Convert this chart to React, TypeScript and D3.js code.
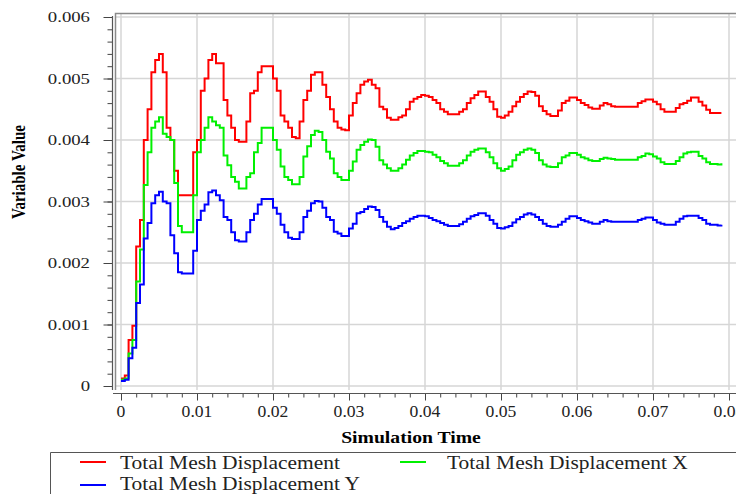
import React, { useEffect, useRef } from 'react'
import * as d3 from 'd3'

// simulation time samples
const simTime = [
  0, 0.0005, 0.001, 0.0015, 0.002, 0.0025, 0.003, 0.0035, 0.004, 0.0045,
  0.005, 0.0055, 0.006, 0.0065, 0.007, 0.0075, 0.008, 0.0085, 0.009, 0.0095,
  0.01, 0.0105, 0.011, 0.0115, 0.012, 0.0125, 0.013, 0.0135, 0.014, 0.0145,
  0.015, 0.0155, 0.016, 0.0165, 0.017, 0.0175, 0.018, 0.0185, 0.019, 0.0195,
  0.02, 0.0205, 0.021, 0.0215, 0.022, 0.0225, 0.023, 0.0235, 0.024, 0.0245,
  0.025, 0.0255, 0.026, 0.0265, 0.027, 0.0275, 0.028, 0.0285, 0.029, 0.0295,
  0.03, 0.0305, 0.031, 0.0315, 0.032, 0.0325, 0.033, 0.0335, 0.034, 0.0345,
  0.035, 0.0355, 0.036, 0.0365, 0.037, 0.0375, 0.038, 0.0385, 0.039, 0.0395,
  0.04, 0.0405, 0.041, 0.0415, 0.042, 0.0425, 0.043, 0.0435, 0.044, 0.0445,
  0.045, 0.0455, 0.046, 0.0465, 0.047, 0.0475, 0.048, 0.0485, 0.049, 0.0495,
  0.05, 0.0505, 0.051, 0.0515, 0.052, 0.0525, 0.053, 0.0535, 0.054, 0.0545,
  0.055, 0.0555, 0.056, 0.0565, 0.057, 0.0575, 0.058, 0.0585, 0.059, 0.0595,
  0.06, 0.0605, 0.061, 0.0615, 0.062, 0.0625, 0.063, 0.0635, 0.064, 0.0645,
  0.065, 0.0655, 0.066, 0.0665, 0.067, 0.0675, 0.068, 0.0685, 0.069, 0.0695,
  0.07, 0.0705, 0.071, 0.0715, 0.072, 0.0725, 0.073, 0.0735, 0.074, 0.0745,
  0.075, 0.0755, 0.076, 0.0765, 0.077, 0.0775, 0.078, 0.0785, 0.079
]

// Total Mesh Displacement
const meshTotal = [
  0.00012, 0.00017, 0.00075, 0.00098, 0.00227, 0.0027, 0.004, 0.0045, 0.0051, 0.0053,
  0.0054, 0.0051, 0.0042, 0.004, 0.0035, 0.0031, 0.0031, 0.0031, 0.0031, 0.0038,
  0.004, 0.0048, 0.005, 0.0053, 0.0054, 0.00525, 0.00525, 0.00465, 0.0044, 0.0042,
  0.004, 0.00397, 0.00397, 0.0043, 0.00476, 0.0048, 0.0051, 0.0052, 0.0052, 0.0052,
  0.005, 0.0048, 0.0044, 0.0043, 0.0042, 0.00405, 0.00403, 0.0043, 0.00465, 0.0048,
  0.00506, 0.0051, 0.0051, 0.0049, 0.0047, 0.0045, 0.0043, 0.0042, 0.00417, 0.00416,
  0.0044, 0.0046, 0.00476, 0.0049, 0.00495, 0.00498, 0.0049, 0.00484, 0.00454, 0.0045,
  0.00436, 0.00433, 0.00433, 0.00437, 0.0044, 0.0045, 0.00462, 0.00467, 0.0047, 0.00473,
  0.00472, 0.0047, 0.00465, 0.0046, 0.0045, 0.00446, 0.00442, 0.00442, 0.00442, 0.00446,
  0.0045, 0.0046, 0.00468, 0.00473, 0.00479, 0.00479, 0.0047, 0.00462, 0.0045, 0.00438,
  0.00436, 0.0044, 0.00446, 0.00455, 0.00462, 0.0047, 0.00475, 0.00479, 0.00478, 0.00472,
  0.00455, 0.00447, 0.00442, 0.00439, 0.00439, 0.00448, 0.0046, 0.00464, 0.00469, 0.00469,
  0.00465, 0.0046, 0.00457, 0.00453, 0.00451, 0.00451, 0.00456, 0.0046, 0.00458, 0.00455,
  0.00454, 0.00454, 0.00454, 0.00454, 0.00454, 0.00454, 0.0046, 0.00463, 0.00466, 0.00466,
  0.00462, 0.00458, 0.0045, 0.00446, 0.00446, 0.00446, 0.00452, 0.00458, 0.0046, 0.00464,
  0.00469, 0.00469, 0.00462, 0.00456, 0.00449, 0.00444, 0.00444, 0.00444, 0.00444
]

// Total Mesh Displacement X
const meshX = [
  0.0001, 0.00012, 0.00053, 0.00075, 0.0017, 0.00222, 0.00327, 0.0038, 0.0042, 0.0043,
  0.00437, 0.0041, 0.00405, 0.004, 0.0033, 0.0026, 0.0025, 0.0025, 0.0025, 0.0031,
  0.0038, 0.004, 0.0042, 0.00437, 0.0043, 0.00424, 0.0042, 0.00375, 0.00359, 0.0034,
  0.00332, 0.00321, 0.00321, 0.0034, 0.00346, 0.0038, 0.00395, 0.0042, 0.0042, 0.0042,
  0.004, 0.00384, 0.00357, 0.0034, 0.00335, 0.00328, 0.00328, 0.0034, 0.00373, 0.0039,
  0.00408, 0.00415, 0.00413, 0.004, 0.00381, 0.0037, 0.00346, 0.0034, 0.00335, 0.00335,
  0.0035, 0.00365, 0.00384, 0.00392, 0.00397, 0.00401, 0.004, 0.00389, 0.00367, 0.0036,
  0.00354, 0.0035, 0.0035, 0.00354, 0.0036, 0.00368, 0.00375, 0.00379, 0.00382, 0.00382,
  0.00381, 0.0038, 0.00376, 0.00372, 0.00366, 0.00362, 0.00358, 0.00358, 0.00358, 0.00362,
  0.00367, 0.00375, 0.00381, 0.00384, 0.00386, 0.00386, 0.0038, 0.00372, 0.00362, 0.00354,
  0.0035, 0.00353, 0.00357, 0.00367, 0.00376, 0.0038, 0.00384, 0.00386, 0.00384, 0.00379,
  0.00367, 0.0036, 0.00357, 0.00356, 0.00356, 0.00362, 0.00372, 0.00375, 0.00379, 0.00379,
  0.00376, 0.00372, 0.0037, 0.00367, 0.00366, 0.00366, 0.00369, 0.00371, 0.0037, 0.00369,
  0.00368, 0.00368, 0.00368, 0.00368, 0.00368, 0.00368, 0.00372, 0.00374, 0.00378, 0.00377,
  0.00373, 0.0037, 0.00364, 0.00361, 0.00361, 0.00361, 0.00366, 0.00372, 0.00378, 0.0038,
  0.00381, 0.00381, 0.00374, 0.0037, 0.00364, 0.00361, 0.00361, 0.0036, 0.00362
]

// Total Mesh Displacement Y
const meshY = [
  0.00008, 0.0001, 0.00045, 0.00062, 0.00135, 0.00165, 0.0024, 0.00265, 0.00297, 0.0031,
  0.00316, 0.003, 0.00297, 0.00245, 0.00216, 0.00185, 0.00183, 0.00183, 0.00183, 0.0022,
  0.0027, 0.00285, 0.00295, 0.00315, 0.00318, 0.0031, 0.00302, 0.00275, 0.0027, 0.0025,
  0.00237, 0.00235, 0.00235, 0.0025, 0.0027, 0.0028, 0.00295, 0.00304, 0.00304, 0.00304,
  0.0029, 0.0028, 0.00262, 0.0025, 0.00241, 0.00239, 0.00239, 0.0025, 0.00275, 0.00285,
  0.00297, 0.00301, 0.003, 0.0029, 0.00275, 0.0027, 0.00251, 0.00248, 0.00244, 0.00244,
  0.00256, 0.00264, 0.00281, 0.00283, 0.00288, 0.00292, 0.00291, 0.00286, 0.00275, 0.00267,
  0.00259, 0.00255, 0.00257, 0.0026, 0.00265, 0.00268, 0.00272, 0.00275, 0.00277, 0.00277,
  0.00276, 0.00273, 0.0027, 0.00268, 0.00265, 0.00262, 0.0026, 0.0026, 0.0026, 0.00263,
  0.00267, 0.00272, 0.00276, 0.00278, 0.00281, 0.00281, 0.00277, 0.0027, 0.00264, 0.00257,
  0.00256, 0.00258, 0.0026, 0.00266, 0.00271, 0.00275, 0.00279, 0.00281, 0.00279, 0.00275,
  0.0027, 0.00264, 0.0026, 0.00259, 0.00259, 0.00262, 0.00267, 0.00272, 0.00276, 0.00276,
  0.00273, 0.0027, 0.00268, 0.00266, 0.00264, 0.00264, 0.00267, 0.0027, 0.00268, 0.00267,
  0.00267, 0.00267, 0.00267, 0.00267, 0.00267, 0.00267, 0.0027, 0.00272, 0.00274, 0.00274,
  0.0027, 0.00266, 0.00264, 0.00262, 0.00262, 0.00262, 0.00267, 0.00272, 0.00276, 0.00277,
  0.00277, 0.00277, 0.00273, 0.0027, 0.00264, 0.00262, 0.00262, 0.00261, 0.00262
]

const yTickValues = [0, 0.001, 0.002, 0.003, 0.004, 0.005, 0.006]
const yTickLabels = ['0', '0.001', '0.002', '0.003', '0.004', '0.005', '0.006']
const xTickValues = [0, 0.01, 0.02, 0.03, 0.04, 0.05, 0.06, 0.07, 0.08]
const xTickLabels = ['0', '0.01', '0.02', '0.03', '0.04', '0.05', '0.06', '0.07', '0.08']

const seriesNames = [
  'Total Mesh Displacement',
  'Total Mesh Displacement X',
  'Total Mesh Displacement Y'
]
const seriesColors = ['#ff0000', '#00f000', '#0000ff']

const FONT = "'Liberation Serif', 'Times New Roman', serif"

export default function App() {
  const ref = useRef<SVGSVGElement>(null)

  useEffect(() => {
    const svg = d3.select(ref.current)
    svg.selectAll('*').remove()

    const x = d3.scaleLinear().domain([0, 0.08]).range([121, 729])
    const y = d3.scaleLinear().domain([0, 0.006]).range([386, 17])

    // grid
    const grid = svg.append('g').attr('stroke', '#d6d6d6').attr('stroke-width', 1.5)
    grid
      .selectAll('.gx')
      .data(xTickValues)
      .enter()
      .append('line')
      .attr('x1', (d) => x(d))
      .attr('x2', (d) => x(d))
      .attr('y1', 14)
      .attr('y2', 390)
    grid
      .selectAll('.gy')
      .data(yTickValues)
      .enter()
      .append('line')
      .attr('x1', 116)
      .attr('x2', 736)
      .attr('y1', (d) => y(d))
      .attr('y2', (d) => y(d))

    // plot frame (top + left)
    svg
      .append('path')
      .attr('d', 'M115.5,390 V13.5 H736')
      .attr('fill', 'none')
      .attr('stroke', '#8a8a8a')
      .attr('stroke-width', 1.5)

    // y axis
    const yAxisG = svg.append('g').attr('transform', 'translate(112.5,0)')
    yAxisG.call(
      d3
        .axisLeft(y)
        .tickValues(d3.range(0, 0.00601, 0.0002))
        .tickSize(5)
        .tickSizeOuter(0)
        .tickFormat(() => '')
    )
    yAxisG.append('g').call(
      d3.axisLeft(y).tickValues(yTickValues).tickSize(9).tickSizeOuter(0).tickFormat(() => '')
    )
    yAxisG.selectAll('.domain').remove()
    yAxisG.selectAll('line').attr('stroke', '#444')
    svg
      .append('line')
      .attr('x1', 112.5)
      .attr('x2', 112.5)
      .attr('y1', 16)
      .attr('y2', 390)
      .attr('stroke', '#555')
      .attr('stroke-width', 1.2)

    svg
      .append('g')
      .selectAll('text')
      .data(yTickValues)
      .enter()
      .append('text')
      .attr('transform', (d) => `translate(90,${y(d)}) scale(1.25,1)`)
      .attr('dy', '0.35em')
      .attr('text-anchor', 'end')
      .style('font-family', FONT)
      .style('font-size', '15px')
      .attr('fill', '#222')
      .text((d, i) => yTickLabels[i])

    // x axis
    const xAxisG = svg.append('g').attr('transform', 'translate(0,393.5)')
    xAxisG.call(
      d3
        .axisBottom(x)
        .tickValues(d3.range(0, 0.08001, 0.002))
        .tickSize(4)
        .tickSizeOuter(0)
        .tickFormat(() => '')
    )
    xAxisG.append('g').call(
      d3.axisBottom(x).tickValues(xTickValues).tickSize(7).tickSizeOuter(0).tickFormat(() => '')
    )
    xAxisG.selectAll('.domain').remove()
    xAxisG.selectAll('line').attr('stroke', '#444')
    svg
      .append('line')
      .attr('x1', 113)
      .attr('x2', 736)
      .attr('y1', 393.5)
      .attr('y2', 393.5)
      .attr('stroke', '#555')
      .attr('stroke-width', 1.2)

    svg
      .append('g')
      .selectAll('text')
      .data(xTickValues)
      .enter()
      .append('text')
      .attr('transform', (d) => `translate(${x(d)},411) scale(1.1,1)`)
      .attr('dy', '0.35em')
      .attr('text-anchor', 'middle')
      .style('font-family', FONT)
      .style('font-size', '16px')
      .attr('fill', '#222')
      .text((d, i) => xTickLabels[i])

    // axis titles
    svg
      .append('text')
      .attr('transform', 'translate(411,443) scale(1.23,1)')
      .attr('text-anchor', 'middle')
      .style('font-family', FONT)
      .style('font-size', '16px')
      .style('font-weight', 'bold')
      .text('Simulation Time')
    svg
      .append('text')
      .attr('transform', 'translate(25,172) scale(1.25,1) rotate(-90)')
      .attr('text-anchor', 'middle')
      .style('font-family', FONT)
      .style('font-size', '15px')
      .style('font-weight', 'bold')
      .text('Variable Value')

    // curves
    const line = d3
      .line<number>()
      .x((d, i) => x(simTime[i]))
      .y((d) => y(d))
      .curve(d3.curveStepAfter)
    const allSeries = [meshTotal, meshX, meshY]
    svg
      .append('g')
      .selectAll('path')
      .data(allSeries)
      .enter()
      .append('path')
      .attr('d', (d) => line(d))
      .attr('fill', 'none')
      .attr('stroke', (d, i) => seriesColors[i])
      .attr('stroke-width', 2)

    // legend
    svg
      .append('path')
      .attr('d', 'M50.5,494 V452.5 H736')
      .attr('fill', 'none')
      .attr('stroke', '#555')
      .attr('stroke-width', 1)
    const legendPos = [
      [80, 462, 120, 469],
      [400, 462, 447, 469],
      [80, 485, 120, 490]
    ]
    const legend = svg.append('g')
    seriesNames.forEach((name, i) => {
      const [lx, ly, tx, ty] = legendPos[i]
      legend
        .append('line')
        .attr('x1', lx)
        .attr('x2', lx + 26)
        .attr('y1', ly)
        .attr('y2', ly)
        .attr('stroke', seriesColors[i])
        .attr('stroke-width', 2)
      legend
        .append('text')
        .attr('transform', `translate(${tx},${ty}) scale(1.1,1)`)
        .style('font-family', FONT)
        .style('font-size', '19.5px')
        .attr('fill', '#222')
        .text(name)
    })
  }, [])

  return (
    <svg
      ref={ref}
      width={736}
      height={494}
      style={{ position: 'absolute', left: 0, top: 0, background: '#fff' }}
    />
  )
}
